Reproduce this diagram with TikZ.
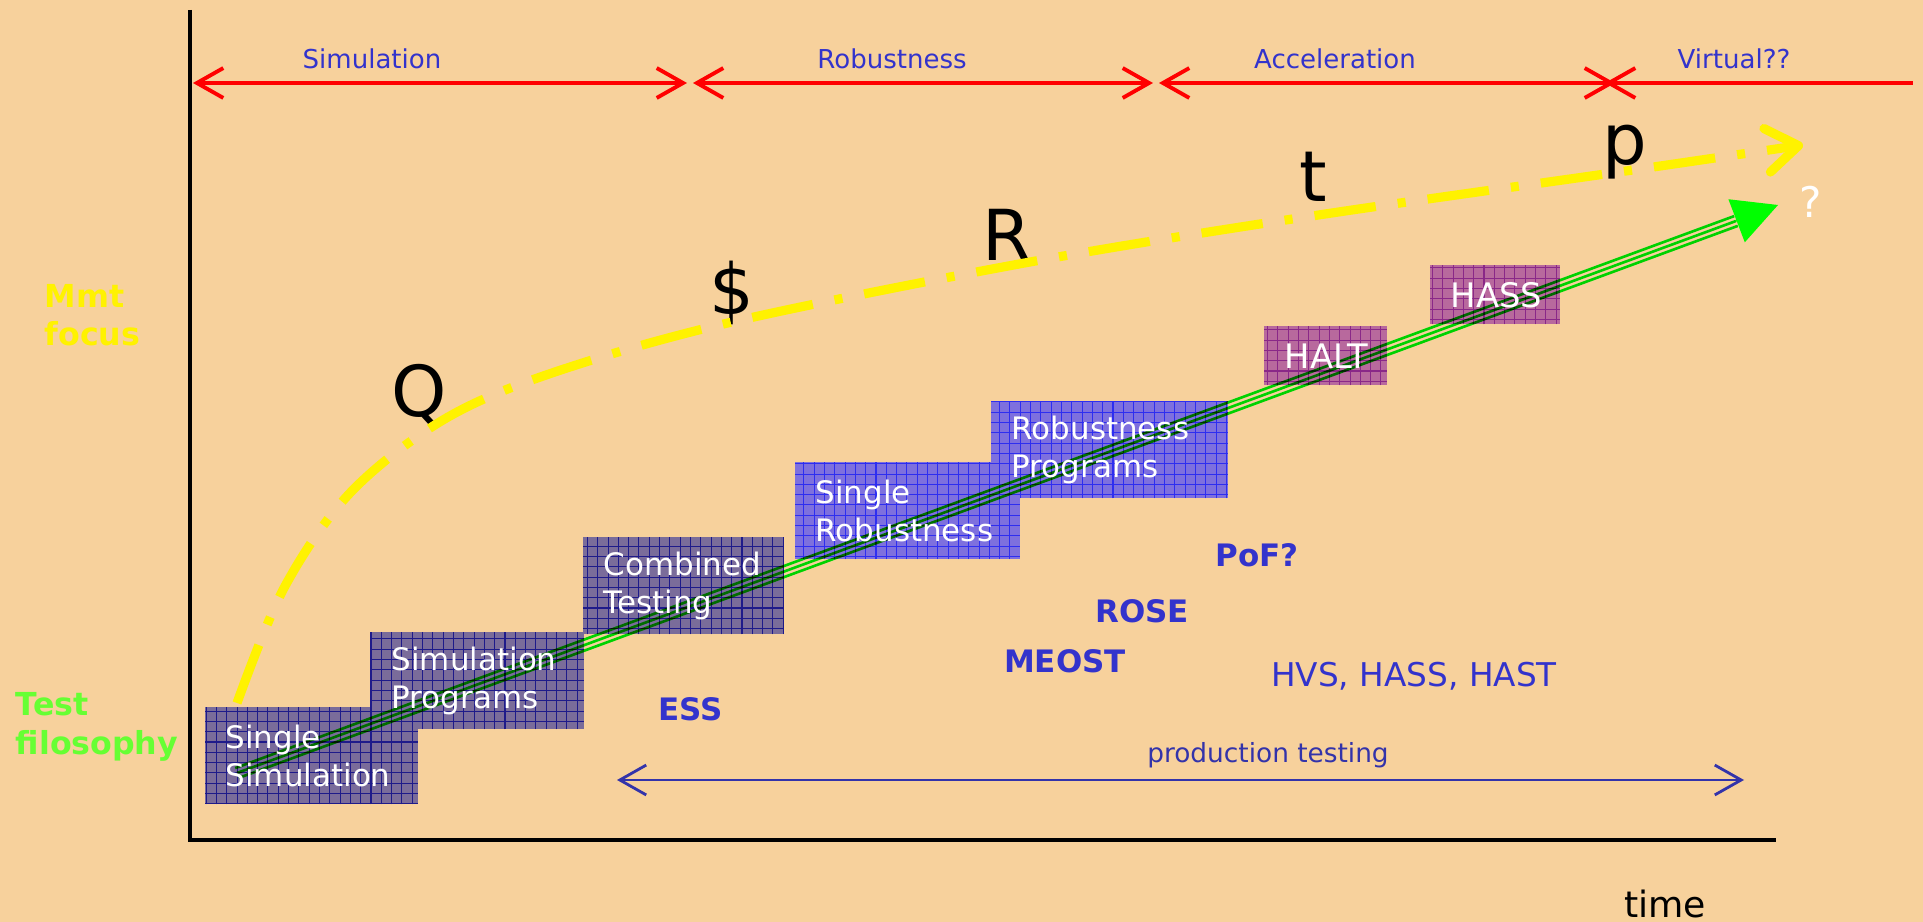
\documentclass[tikz,border=0pt]{standalone}
\usepackage{fontspec}
\setmainfont{DejaVu Sans}
\usetikzlibrary{positioning,arrows.meta}
\definecolor{bgorange}{HTML}{F7D19C}
\definecolor{labelblue}{HTML}{3333CC}
\definecolor{prodblue}{HTML}{3333AA}
\definecolor{testgreen}{HTML}{66FF33}
\definecolor{arrowgreen}{HTML}{00FF00}
\definecolor{simfill}{HTML}{7A6C9A}
\definecolor{simgrid}{HTML}{1E1A8A}
\definecolor{robfill}{HTML}{7E70DE}
\definecolor{robgrid}{HTML}{2E2EF0}
\definecolor{accfill}{HTML}{B8699D}
\definecolor{accgrid}{HTML}{8A2888}
\pgfdeclarelayer{boxlayer}
\pgfdeclarelayer{arrowlayer}
\pgfsetlayers{boxlayer,arrowlayer,main}

\begin{document}
\begin{tikzpicture}[x=0.01cm,y=-0.01cm]
  \tikzstyle{axis}=[black, line width=1.1pt]
  \tikzstyle{phaseline}=[red, line width=1.1pt, >={Straight Barb[length=7.5pt,width=8.5pt]}]
  \tikzstyle{phase}=[labelblue, font=\fontsize{7.4}{9}\selectfont, anchor=base]
  \tikzstyle{testbox}=[anchor=north west, inner xsep=0.2cm, inner ysep=0pt, minimum height=0.96cm,
align=left, text=white, font=\fontsize{8.8}{10.9}\selectfont]
  \tikzstyle{hbox}=[testbox, minimum height=0.58cm, align=center, font=\fontsize{9.6}{11}\selectfont]
  \tikzstyle{method}=[labelblue, font=\fontsize{8.8}{10}\selectfont\bfseries, anchor=base]
  \tikzstyle{bigletter}=[font=\fontsize{20}{24}\selectfont, anchor=base, inner sep=0pt]
  \tikzstyle{mmtline}=[yellow, line width=2.6pt, dash pattern=on 17.6pt off 6.3pt on 2.3pt off 6.3pt,
-{Straight Barb[length=9pt,width=12.5pt,round]}]
  \tikzstyle{gline}=[arrowgreen, line width=0.75pt]
  \tikzstyle{prodline}=[prodblue, line width=0.8pt, >={Straight Barb[length=7.5pt,width=8.5pt]}]

  \begin{pgfonlayer}{boxlayer}
    \fill[bgorange] (0,0) rectangle (1923,922);
  \end{pgfonlayer}
  \useasboundingbox (0,0) rectangle (1923,922);

  % axes
  \coordinate (O) at (190,840);
  \coordinate (Y_top) at (190,10);
  \coordinate (X_end) at (1776,840);
  \draw[axis] (Y_top) -- (O) -- (X_end);

  % phases
  \coordinate (P_0) at (193,83);
  \coordinate (P_1) at (687,83);
  \coordinate (P_2) at (693,83);
  \coordinate (P_3) at (1153,83);
  \coordinate (P_4) at (1159,83);
  \coordinate (P_5) at (1615,83);
  \coordinate (P_6) at (1605,83);
  \coordinate (P_7) at (1913,83);
  \draw[phaseline,<->] (P_0) -- (P_1);
  \draw[phaseline,<->] (P_2) -- (P_3);
  \draw[phaseline,<->] (P_4) -- (P_5);
  \draw[phaseline,<-] (P_6) -- (P_7);
  \node[phase] (Ph_1) at (372,69) {Simulation};
  \node[phase] (Ph_2) at (892,69) {Robustness};
  \node[phase] (Ph_3) at (1335,69) {Acceleration};
  \node[phase] (Ph_4) at (1734,69) {Virtual??};

  % side labels
  \node[anchor=west, inner sep=0pt, align=left, yellow, font=\fontsize{9}{10.8}\selectfont\bfseries]
    (Mmt) at (44,315) {Mmt\\focus};
  \node[anchor=west, inner sep=0pt, align=left, testgreen, font=\fontsize{9}{11}\selectfont\bfseries]
    (Test) at (15,727) {Test\\filosophy};

  % test boxes
  \node[testbox, text width=1.71cm] (B_1) at (205,707) {Single\\Simulation};
  \node[testbox, text width=1.71cm] (B_2) at (371,632) {Simulation\\Programs};
  \node[testbox, text width=1.59cm] (B_3) at (583,537) {Combined\\Testing};
  \node[testbox, text width=1.83cm] (B_4) at (795,462) {Single\\Robustness};
  \node[testbox, text width=1.95cm] (B_5) at (991,401) {Robustness\\Programs};
  \node[hbox, text width=0.82cm] (B_6) at (1264,326) {HALT};
  \node[hbox, text width=0.89cm] (B_7) at (1430,265) {HASS};

  \begin{pgfonlayer}{boxlayer}
    \fill[simfill] (B_1.south west) rectangle (B_1.north east);
    \draw[simgrid, line width=0.3pt, step=0.103cm] (B_1.south west) grid (B_1.north east);
    \fill[simfill] (B_2.south west) rectangle (B_2.north east);
    \draw[simgrid, line width=0.3pt, step=0.103cm] (B_2.south west) grid (B_2.north east);
    \fill[simfill] (B_3.south west) rectangle (B_3.north east);
    \draw[simgrid, line width=0.3pt, step=0.103cm] (B_3.south west) grid (B_3.north east);
    \fill[robfill] (B_4.south west) rectangle (B_4.north east);
    \draw[robgrid, line width=0.3pt, step=0.103cm] (B_4.south west) grid (B_4.north east);
    \fill[robfill] (B_5.south west) rectangle (B_5.north east);
    \draw[robgrid, line width=0.3pt, step=0.103cm] (B_5.south west) grid (B_5.north east);
    \fill[accfill] (B_6.south west) rectangle (B_6.north east);
    \draw[accgrid, line width=0.3pt, step=0.103cm] (B_6.south west) grid (B_6.north east);
    \fill[accfill] (B_7.south west) rectangle (B_7.north east);
    \draw[accgrid, line width=0.3pt, step=0.103cm] (B_7.south west) grid (B_7.north east);
  \end{pgfonlayer}

  % test filosophy arrow
  \coordinate (G_s) at (237,773);
  \coordinate (G_h) at (1736,221);
  \coordinate (G_e) at (1778,205);
  \begin{pgfonlayer}{arrowlayer}
    \begin{scope}[blend mode=multiply]
      \draw[gline] ([shift={(1.8,4.9)}]G_s) -- ([shift={(1.8,4.9)}]G_h);
      \draw[gline] (G_s) -- (G_h);
      \draw[gline] ([shift={(-1.8,-4.9)}]G_s) -- ([shift={(-1.8,-4.9)}]G_h);
    \end{scope}
    \draw[arrowgreen, line width=0.4pt, -{Triangle[length=12.6pt,width=13pt]}] (G_h) -- (G_e);
  \end{pgfonlayer}
  \node[white, font=\fontsize{12}{14}\selectfont] (Qm) at (1811,202) {?};

  % management focus
  \node[bigletter] (L_Q) at (419,417) {Q};
  \node[bigletter] (L_D) at (732,315) {\$};
  \node[bigletter] (L_R) at (1007,261) {R};
  \node[bigletter] (L_t) at (1313,202) {t};
  \node[bigletter] (L_p) at (1625,165) {p};
  \coordinate (Y_s) at (237,703);
  \coordinate (Y_1) at (284,588);
  \coordinate (Y_2) at (350,493);
  \coordinate (Y_3) at (443,420);
  \coordinate (Y_4) at (552,373);
  \coordinate (Y_5) at (732,322);
  \coordinate (Y_6) at (1030,262);
  \coordinate (Y_7) at (1312,216);
  \coordinate (Y_8) at (1619,172);
  \coordinate (Y_e) at (1803,145);
  \draw[mmtline] plot[smooth, tension=0.55] coordinates {(Y_s) (Y_1) (Y_2) (Y_3) (Y_4) (Y_5) (Y_6) (Y_7) (Y_8) (Y_e)};

  % methods
  \node[method] (PoF) at (1257,567) {PoF?};
  \node[method] (ROSE) at (1142,623) {ROSE};
  \node[method] (MEOST) at (1065,673) {MEOST};
  \node[method] (ESS) at (691,721) {ESS};
  \node[labelblue, anchor=base, font=\fontsize{9.3}{11}\selectfont] (HV) at (1414,687) {HVS, HASS, HAST};

  % production testing
  \coordinate (Pr_a) at (617,780);
  \coordinate (Pr_b) at (1744,780);
  \draw[prodline,<->] (Pr_a) -- (Pr_b);
  \node[prodblue, anchor=base, font=\fontsize{7.5}{9}\selectfont] (Prod) at (1268,763) {production testing};
  \node[anchor=base, font=\fontsize{10.3}{12}\selectfont] (Time) at (1665,918) {time};
\end{tikzpicture}
\end{document}
